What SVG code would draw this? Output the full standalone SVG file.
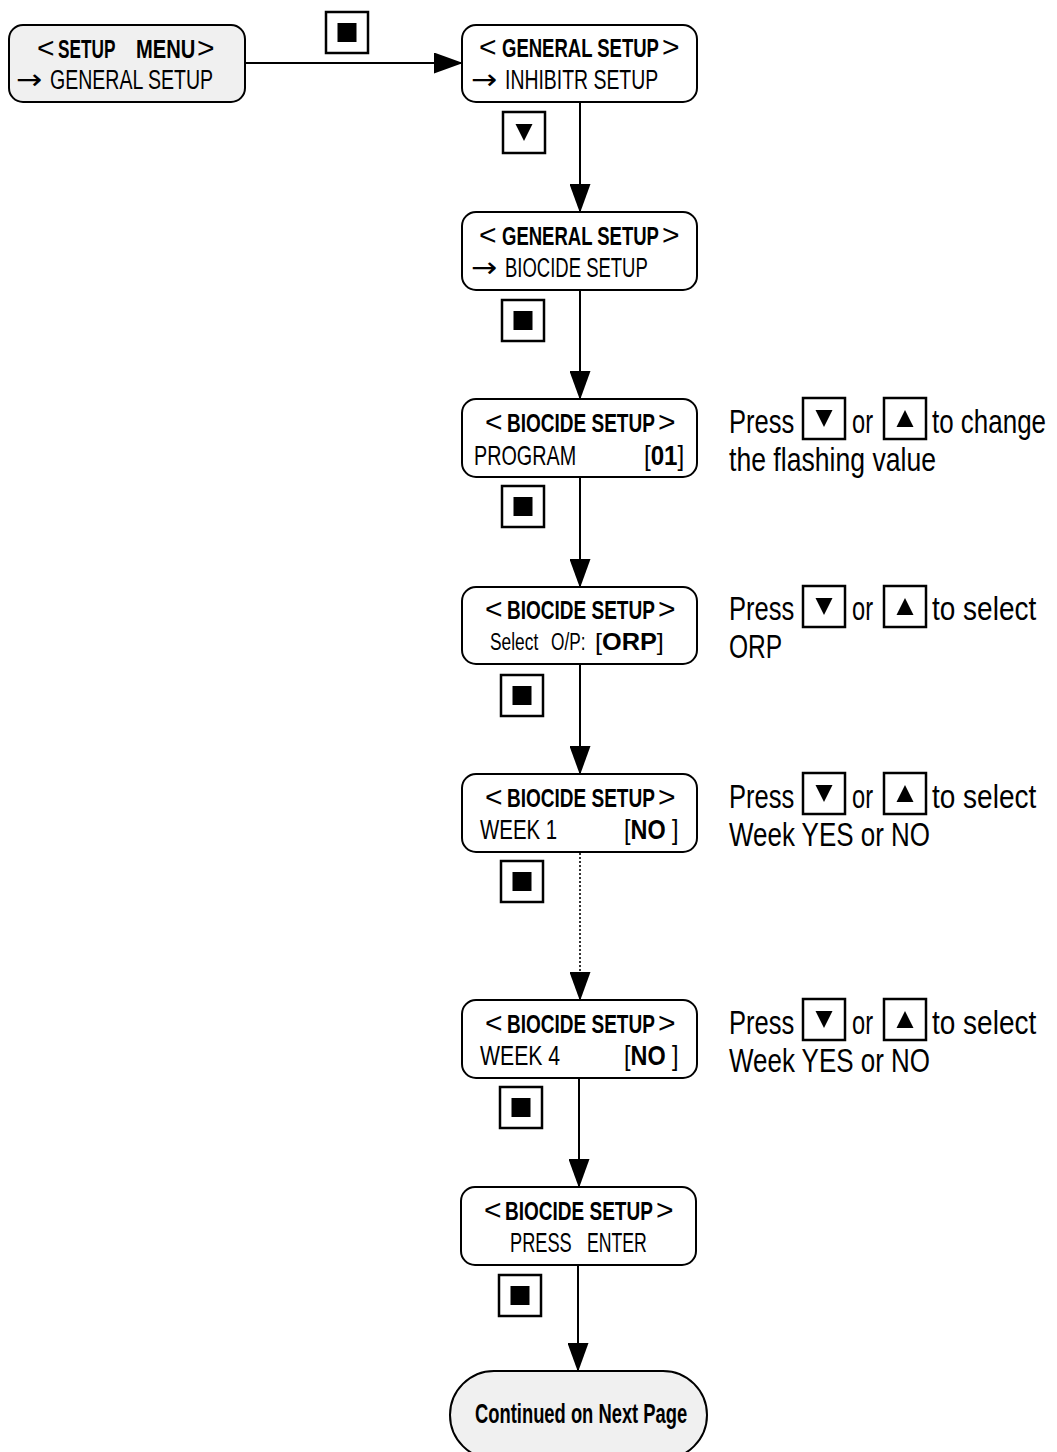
<svg xmlns="http://www.w3.org/2000/svg" xmlns:xlink="http://www.w3.org/1999/xlink" width="1057" height="1452" viewBox="0 0 1057 1452">
<style>
.node{fill:#fff;stroke:#000;stroke-width:2}
.gray{fill:#f0f0f0}
text{font-family:"Liberation Sans",Arial,sans-serif;fill:#000}
.h{font-size:26px;font-weight:bold}
.lt{font-size:30px}
.t{font-size:28px}
.s{font-size:24px}
.b{font-weight:bold}
.ar{font-family:"DejaVu Sans",sans-serif;font-size:28px}
.r{font-size:34px}
.btn{fill:#fff;stroke:#000;stroke-width:2.5}
.conn{stroke:#000;stroke-width:2;fill:none}
.dot{stroke-dasharray:2 2;stroke-width:1.6}
</style>
<defs>
<marker id="ah" viewBox="0 0 29 21" markerWidth="29" markerHeight="21" refX="28" refY="10.5" orient="auto" markerUnits="userSpaceOnUse"><path d="M0,0 L29,10.5 L0,21 z" fill="#000"/></marker>
<g id="bsq"><rect x="0" y="0" width="42" height="41" class="btn"/><rect x="11.5" y="11" width="19" height="19" fill="#000"/></g>
<g id="bdn"><rect x="0" y="0" width="42" height="41" class="btn"/><path d="M12.5,12 L29.5,12 L21,29 z" fill="#000"/></g>
<g id="bup"><rect x="0" y="0" width="42" height="41" class="btn"/><path d="M12.5,29 L29.5,29 L21,12 z" fill="#000"/></g>
</defs>

<g id="connectors">
<path class="conn" d="M245,63 H462" marker-end="url(#ah)"/>
<path class="conn" d="M580,103 V212" marker-end="url(#ah)"/>
<path class="conn" d="M580,291 V399" marker-end="url(#ah)"/>
<path class="conn" d="M580,478 V587" marker-end="url(#ah)"/>
<path class="conn" d="M580,665 V774" marker-end="url(#ah)"/>
<path class="conn dot" d="M580,853 V1000" marker-end="url(#ah)"/>
<path class="conn" d="M579,1079 V1187" marker-end="url(#ah)"/>
<path class="conn" d="M578,1265 V1371" marker-end="url(#ah)"/>
</g>

<g id="buttons">
<use xlink:href="#bsq" x="326" y="12"/>
<use xlink:href="#bdn" x="503" y="112"/>
<use xlink:href="#bsq" x="502" y="300"/>
<use xlink:href="#bsq" x="502" y="486"/>
<use xlink:href="#bsq" x="501" y="675"/>
<use xlink:href="#bsq" x="501" y="861"/>
<use xlink:href="#bsq" x="500" y="1087"/>
<use xlink:href="#bsq" x="499" y="1275"/>
</g>

<g id="n1">
<rect class="node gray" x="9" y="25" width="236" height="77" rx="14"/>
<text class="lt" x="37" y="58">&lt;</text>
<text class="h" transform="translate(58,58) scale(0.66,1)" textLength="87" lengthAdjust="spacingAndGlyphs">SETUP</text>
<text class="h" transform="translate(136,58) scale(0.77,1)" textLength="77" lengthAdjust="spacingAndGlyphs">MENU</text>
<text class="lt" x="197" y="58">&gt;</text>
<text class="ar" transform="translate(16,89) scale(1.12,1)">→</text>
<text class="t" transform="translate(50,89) scale(0.694,1)" textLength="235" lengthAdjust="spacingAndGlyphs">GENERAL SETUP</text>
</g>

<g id="n2">
<rect class="node" x="462" y="25" width="235" height="77" rx="14"/>
<text class="lt" x="479" y="57">&lt;</text>
<text class="h" transform="translate(502,57) scale(0.71,1)" textLength="221" lengthAdjust="spacingAndGlyphs">GENERAL SETUP</text>
<text class="lt" x="662" y="57">&gt;</text>
<text class="ar" transform="translate(471,89) scale(1.12,1)">→</text>
<text class="t" transform="translate(505,89) scale(0.693,1)" textLength="221" lengthAdjust="spacingAndGlyphs">INHIBITR SETUP</text>
</g>

<g id="n3">
<rect class="node" x="462" y="212" width="235" height="78" rx="14"/>
<text class="lt" x="479" y="245">&lt;</text>
<text class="h" transform="translate(502,245) scale(0.71,1)" textLength="221" lengthAdjust="spacingAndGlyphs">GENERAL SETUP</text>
<text class="lt" x="662" y="245">&gt;</text>
<text class="ar" transform="translate(471,277) scale(1.12,1)">→</text>
<text class="t" transform="translate(505,277) scale(0.661,1)" textLength="216" lengthAdjust="spacingAndGlyphs">BIOCIDE SETUP</text>
</g>

<g id="n4">
<rect class="node" x="462" y="399" width="235" height="78" rx="14"/>
<text class="lt" x="485" y="432">&lt;</text>
<text class="h" transform="translate(507,432) scale(0.732,1)" textLength="202" lengthAdjust="spacingAndGlyphs">BIOCIDE SETUP</text>
<text class="lt" x="658" y="432">&gt;</text>
<text class="t" transform="translate(474,465) scale(0.705,1)" textLength="145" lengthAdjust="spacingAndGlyphs">PROGRAM</text>
<text class="t" transform="translate(644,465) scale(0.857,1)" textLength="47" lengthAdjust="spacingAndGlyphs">[<tspan class="b">01</tspan>]</text>
</g>

<g id="n5">
<rect class="node" x="462" y="587" width="235" height="77" rx="14"/>
<text class="lt" x="485" y="619">&lt;</text>
<text class="h" transform="translate(507,619) scale(0.732,1)" textLength="202" lengthAdjust="spacingAndGlyphs">BIOCIDE SETUP</text>
<text class="lt" x="658" y="619">&gt;</text>
<text class="s" transform="translate(490,650) scale(0.72,1)" textLength="67" lengthAdjust="spacingAndGlyphs">Select</text>
<text class="s" transform="translate(551,650) scale(0.72,1)" textLength="48" lengthAdjust="spacingAndGlyphs">O/P:</text>
<text class="s" transform="translate(595,650) scale(1.06,1)" textLength="65" lengthAdjust="spacingAndGlyphs">[<tspan class="b">ORP</tspan>]</text>
</g>

<g id="n6">
<rect class="node" x="462" y="774" width="235" height="78" rx="14"/>
<text class="lt" x="485" y="807">&lt;</text>
<text class="h" transform="translate(507,807) scale(0.732,1)" textLength="202" lengthAdjust="spacingAndGlyphs">BIOCIDE SETUP</text>
<text class="lt" x="658" y="807">&gt;</text>
<text class="t" transform="translate(480,839) scale(0.728,1)" textLength="106" lengthAdjust="spacingAndGlyphs">WEEK 1</text>
<text class="t" transform="translate(624,839) scale(0.84,1)" textLength="65" lengthAdjust="spacingAndGlyphs">[<tspan class="b">NO</tspan> ]</text>
</g>

<g id="n7">
<rect class="node" x="462" y="1000" width="235" height="78" rx="14"/>
<text class="lt" x="485" y="1033">&lt;</text>
<text class="h" transform="translate(507,1033) scale(0.732,1)" textLength="202" lengthAdjust="spacingAndGlyphs">BIOCIDE SETUP</text>
<text class="lt" x="658" y="1033">&gt;</text>
<text class="t" transform="translate(480,1065) scale(0.756,1)" textLength="106" lengthAdjust="spacingAndGlyphs">WEEK 4</text>
<text class="t" transform="translate(624,1065) scale(0.84,1)" textLength="65" lengthAdjust="spacingAndGlyphs">[<tspan class="b">NO</tspan> ]</text>
</g>

<g id="n8">
<rect class="node" x="461" y="1187" width="235" height="78" rx="14"/>
<text class="lt" x="484" y="1220">&lt;</text>
<text class="h" transform="translate(505,1220) scale(0.732,1)" textLength="202" lengthAdjust="spacingAndGlyphs">BIOCIDE SETUP</text>
<text class="lt" x="656" y="1220">&gt;</text>
<text class="t" transform="translate(510,1252) scale(0.65,1)" textLength="95" lengthAdjust="spacingAndGlyphs">PRESS</text>
<text class="t" transform="translate(587,1252) scale(0.63,1)" textLength="95" lengthAdjust="spacingAndGlyphs">ENTER</text>
</g>

<g id="end">
<rect class="node gray" x="450" y="1371" width="257" height="88" rx="44"/>
<text class="t b" transform="translate(475,1423) scale(0.655,1)" textLength="324" lengthAdjust="spacingAndGlyphs">Continued on Next Page</text>
</g>

<g id="note4">
<text class="r" transform="translate(729,433) scale(0.75,1)" textLength="87" lengthAdjust="spacingAndGlyphs">Press</text>
<use xlink:href="#bdn" x="803" y="398"/>
<text class="r" transform="translate(852,433) scale(0.75,1)" textLength="28" lengthAdjust="spacingAndGlyphs">or</text>
<use xlink:href="#bup" x="884" y="398"/>
<text class="r" transform="translate(932,433) scale(0.75,1)" textLength="152" lengthAdjust="spacingAndGlyphs">to change</text>
<text class="r" transform="translate(729,471) scale(0.75,1)" textLength="276" lengthAdjust="spacingAndGlyphs">the flashing value</text>
</g>

<g id="note5">
<text class="r" transform="translate(729,620) scale(0.75,1)" textLength="87" lengthAdjust="spacingAndGlyphs">Press</text>
<use xlink:href="#bdn" x="803" y="586"/>
<text class="r" transform="translate(852,620) scale(0.75,1)" textLength="28" lengthAdjust="spacingAndGlyphs">or</text>
<use xlink:href="#bup" x="884" y="586"/>
<text class="r" transform="translate(932,620) scale(0.75,1)" textLength="139" lengthAdjust="spacingAndGlyphs">to select</text>
<text class="r" transform="translate(729,658) scale(0.75,1)" textLength="71" lengthAdjust="spacingAndGlyphs">ORP</text>
</g>

<g id="note6">
<text class="r" transform="translate(729,808) scale(0.75,1)" textLength="87" lengthAdjust="spacingAndGlyphs">Press</text>
<use xlink:href="#bdn" x="803" y="773"/>
<text class="r" transform="translate(852,808) scale(0.75,1)" textLength="28" lengthAdjust="spacingAndGlyphs">or</text>
<use xlink:href="#bup" x="884" y="773"/>
<text class="r" transform="translate(932,808) scale(0.75,1)" textLength="139" lengthAdjust="spacingAndGlyphs">to select</text>
<text class="r" transform="translate(729,846) scale(0.75,1)" textLength="268" lengthAdjust="spacingAndGlyphs">Week YES or NO</text>
</g>

<g id="note7">
<text class="r" transform="translate(729,1034) scale(0.75,1)" textLength="87" lengthAdjust="spacingAndGlyphs">Press</text>
<use xlink:href="#bdn" x="803" y="999"/>
<text class="r" transform="translate(852,1034) scale(0.75,1)" textLength="28" lengthAdjust="spacingAndGlyphs">or</text>
<use xlink:href="#bup" x="884" y="999"/>
<text class="r" transform="translate(932,1034) scale(0.75,1)" textLength="139" lengthAdjust="spacingAndGlyphs">to select</text>
<text class="r" transform="translate(729,1072) scale(0.75,1)" textLength="268" lengthAdjust="spacingAndGlyphs">Week YES or NO</text>
</g>
</svg>
